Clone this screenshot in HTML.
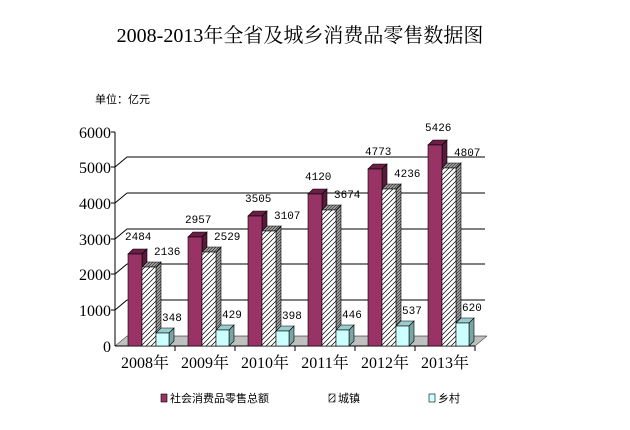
<!DOCTYPE html>
<html><head><meta charset="utf-8"><style>body{margin:0;background:#fff}svg{display:block}</style></head>
<body>
<svg width="630" height="430" xmlns="http://www.w3.org/2000/svg" font-family="'Liberation Serif','Noto Serif CJK SC',serif">
<defs>
<pattern id="h" width="5" height="5" patternUnits="userSpaceOnUse"><rect width="5" height="5" fill="#fff"/><path d="M-1,6 L6,-1 M-1,1 L1,-1 M4,6 L6,4" stroke="#000" stroke-width="0.7"/></pattern>
<pattern id="hs" width="3" height="3" patternUnits="userSpaceOnUse"><rect width="3" height="3" fill="#999"/><path d="M0,3 L3,0" stroke="#000" stroke-width="0.5"/></pattern>
</defs>
<text x="300" y="42" font-size="20" text-anchor="middle">2008-2013年全省及城乡消费品零售数据图</text>
<text x="95" y="103" font-size="11" font-family="'Liberation Sans','Noto Sans CJK SC',sans-serif">单位：亿元</text>
<polygon points="115,346 475,346 487,336 127,336" fill="#c0c0c0" stroke="#000" stroke-width="0.5"/>
<g stroke="#000" stroke-width="1" fill="none">
<line x1="127" y1="300" x2="485" y2="300"/>
<line x1="127" y1="264" x2="485" y2="264"/>
<line x1="127" y1="229" x2="485" y2="229"/>
<line x1="127" y1="193" x2="485" y2="193"/>
<line x1="127" y1="157" x2="485" y2="157"/>
<line x1="115" y1="310" x2="127" y2="300"/>
<line x1="115" y1="274" x2="127" y2="264"/>
<line x1="115" y1="239" x2="127" y2="229"/>
<line x1="115" y1="203" x2="127" y2="193"/>
<line x1="115" y1="167" x2="127" y2="157"/>
<line x1="115" y1="132" x2="115" y2="346"/>
<line x1="115" y1="346" x2="475" y2="346"/>
<line x1="111" y1="132" x2="115" y2="132"/>
<line x1="111" y1="167" x2="115" y2="167"/>
<line x1="111" y1="203" x2="115" y2="203"/>
<line x1="111" y1="239" x2="115" y2="239"/>
<line x1="111" y1="274" x2="115" y2="274"/>
<line x1="111" y1="310" x2="115" y2="310"/>
<line x1="175" y1="346" x2="175" y2="351"/><line x1="235" y1="346" x2="235" y2="351"/><line x1="295" y1="346" x2="295" y2="351"/><line x1="355" y1="346" x2="355" y2="351"/><line x1="415" y1="346" x2="415" y2="351"/><line x1="475" y1="346" x2="475" y2="351"/>
</g>
<g font-size="16" text-anchor="end">
<text x="111" y="138">6000</text><text x="111" y="173">5000</text><text x="111" y="209">4000</text><text x="111" y="245">3000</text><text x="111" y="280">2000</text><text x="111" y="316">1000</text><text x="111" y="352">0</text>
</g>
<g font-size="16" text-anchor="middle">
<text x="145" y="368">2008年</text><text x="205" y="368">2009年</text><text x="265" y="368">2010年</text><text x="325" y="368">2011年</text><text x="385" y="368">2012年</text><text x="445" y="368">2013年</text>
</g>
<g stroke="#000" stroke-width="0.6">
<g transform="translate(128,0)"><polygon points="14,346 19,341 19,249 14,254" fill="#5a1a3a"/><polygon points="0,254 5,249 19,249 14,254" fill="#6b1f45"/><rect x="0" y="254" width="14" height="92" fill="#993366"/></g>
<g transform="translate(142,0)"><polygon points="14,346 19,341 19,262 14,267" fill="url(#hs)"/><polygon points="0,267 5,262 19,262 14,267" fill="url(#hs)"/><rect x="0" y="267" width="14" height="79" fill="url(#h)"/></g>
<g transform="translate(156,0)"><polygon points="13,346 18,341 18,328 13,333" fill="#7aa5a5"/><polygon points="0,333 5,328 18,328 13,333" fill="#99cccc"/><rect x="0" y="333" width="13" height="13" fill="#ccffff"/></g>
<g transform="translate(188,0)"><polygon points="14,346 19,341 19,232 14,237" fill="#5a1a3a"/><polygon points="0,237 5,232 19,232 14,237" fill="#6b1f45"/><rect x="0" y="237" width="14" height="109" fill="#993366"/></g>
<g transform="translate(202,0)"><polygon points="14,346 19,341 19,247 14,252" fill="url(#hs)"/><polygon points="0,252 5,247 19,247 14,252" fill="url(#hs)"/><rect x="0" y="252" width="14" height="94" fill="url(#h)"/></g>
<g transform="translate(216,0)"><polygon points="13,346 18,341 18,325 13,330" fill="#7aa5a5"/><polygon points="0,330 5,325 18,325 13,330" fill="#99cccc"/><rect x="0" y="330" width="13" height="16" fill="#ccffff"/></g>
<g transform="translate(248,0)"><polygon points="14,346 19,341 19,211 14,216" fill="#5a1a3a"/><polygon points="0,216 5,211 19,211 14,216" fill="#6b1f45"/><rect x="0" y="216" width="14" height="130" fill="#993366"/></g>
<g transform="translate(262,0)"><polygon points="14,346 19,341 19,226 14,231" fill="url(#hs)"/><polygon points="0,231 5,226 19,226 14,231" fill="url(#hs)"/><rect x="0" y="231" width="14" height="115" fill="url(#h)"/></g>
<g transform="translate(276,0)"><polygon points="13,346 18,341 18,326 13,331" fill="#7aa5a5"/><polygon points="0,331 5,326 18,326 13,331" fill="#99cccc"/><rect x="0" y="331" width="13" height="15" fill="#ccffff"/></g>
<g transform="translate(308,0)"><polygon points="14,346 19,341 19,189 14,194" fill="#5a1a3a"/><polygon points="0,194 5,189 19,189 14,194" fill="#6b1f45"/><rect x="0" y="194" width="14" height="152" fill="#993366"/></g>
<g transform="translate(322,0)"><polygon points="14,346 19,341 19,205 14,210" fill="url(#hs)"/><polygon points="0,210 5,205 19,205 14,210" fill="url(#hs)"/><rect x="0" y="210" width="14" height="136" fill="url(#h)"/></g>
<g transform="translate(336,0)"><polygon points="13,346 18,341 18,325 13,330" fill="#7aa5a5"/><polygon points="0,330 5,325 18,325 13,330" fill="#99cccc"/><rect x="0" y="330" width="13" height="16" fill="#ccffff"/></g>
<g transform="translate(368,0)"><polygon points="14,346 19,341 19,164 14,169" fill="#5a1a3a"/><polygon points="0,169 5,164 19,164 14,169" fill="#6b1f45"/><rect x="0" y="169" width="14" height="177" fill="#993366"/></g>
<g transform="translate(382,0)"><polygon points="14,346 19,341 19,184 14,189" fill="url(#hs)"/><polygon points="0,189 5,184 19,184 14,189" fill="url(#hs)"/><rect x="0" y="189" width="14" height="157" fill="url(#h)"/></g>
<g transform="translate(396,0)"><polygon points="13,346 18,341 18,321 13,326" fill="#7aa5a5"/><polygon points="0,326 5,321 18,321 13,326" fill="#99cccc"/><rect x="0" y="326" width="13" height="20" fill="#ccffff"/></g>
<g transform="translate(428,0)"><polygon points="14,346 19,341 19,140 14,145" fill="#5a1a3a"/><polygon points="0,145 5,140 19,140 14,145" fill="#6b1f45"/><rect x="0" y="145" width="14" height="201" fill="#993366"/></g>
<g transform="translate(442,0)"><polygon points="14,346 19,341 19,163 14,168" fill="url(#hs)"/><polygon points="0,168 5,163 19,163 14,168" fill="url(#hs)"/><rect x="0" y="168" width="14" height="178" fill="url(#h)"/></g>
<g transform="translate(456,0)"><polygon points="13,346 18,341 18,318 13,323" fill="#7aa5a5"/><polygon points="0,323 5,318 18,318 13,323" fill="#99cccc"/><rect x="0" y="323" width="13" height="23" fill="#ccffff"/></g>
</g>
<g font-size="11" font-family="'Liberation Mono',monospace">
<text x="125" y="240">2484</text><text x="154" y="255">2136</text><text x="162" y="321">348</text>
<text x="185" y="223">2957</text><text x="214" y="240">2529</text><text x="222" y="318">429</text>
<text x="245" y="202">3505</text><text x="274" y="219">3107</text><text x="282" y="319">398</text>
<text x="305" y="180">4120</text><text x="334" y="198">3674</text><text x="342" y="318">446</text>
<text x="365" y="155">4773</text><text x="394" y="177">4236</text><text x="402" y="314">537</text>
<text x="425" y="131">5426</text><text x="454" y="156">4807</text><text x="462" y="311">620</text>
</g>
<g font-size="11" font-family="'Liberation Sans','Noto Sans CJK SC',sans-serif">
<rect x="161" y="394" width="6" height="8" fill="#993366" stroke="#000" stroke-width="0.6"/><text x="170" y="402">社会消费品零售总额</text>
<rect x="329" y="394" width="6" height="8" fill="url(#h)" stroke="#000" stroke-width="0.6"/><text x="338" y="402">城镇</text>
<rect x="429" y="394" width="6" height="8" fill="#ccffff" stroke="#000" stroke-width="0.6"/><text x="438" y="402">乡村</text>
</g>
</svg>
</body></html>
